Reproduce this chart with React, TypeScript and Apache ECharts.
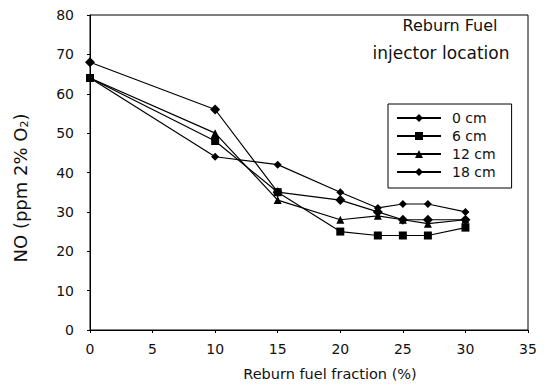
import React, { useEffect, useRef } from "react";
import * as echarts from "echarts";

const fractions = [0, 10, 15, 20, 23, 25, 27, 30];
const cm0 = [68, 56, 35, 33, 30, 28, 28, 28];
const cm6 = [64, 48, 35, 25, 24, 24, 24, 26];
const cm12 = [64, 50, 33, 28, 29, 28, 27, 28];
const cm18 = [64, 44, 42, 35, 31, 32, 32, 30];
const seriesNames = ["0 cm", "6 cm", "12 cm", "18 cm"];
const xTicks = [0, 35, 5];
const yTicks = [0, 80, 10];

const FONT = "DejaVu Sans, Verdana, sans-serif";

export default function App() {
  const ref = useRef<HTMLDivElement>(null);
  useEffect(() => {
    document.body.style.margin = "0";
    if (!ref.current) return;
    const chart = echarts.init(ref.current, undefined, { renderer: "svg" });
    const mk = (name: string, vals: number[], symbol: string, size: number) => ({
      name,
      type: "line",
      data: fractions.map((f, i) => [f, vals[i]]),
      symbol,
      symbolSize: size,
      itemStyle: { color: "#000" },
      lineStyle: { color: "#000", width: 1.2 },
    });
    chart.setOption({
      animation: false,
      backgroundColor: "#fff",
      textStyle: { fontFamily: FONT },
      grid: {
        left: 90,
        right: 18,
        top: 15,
        bottom: 58,
        show: true,
        borderColor: "#000",
        borderWidth: 1,
      },
      xAxis: {
        type: "value",
        min: xTicks[0],
        max: xTicks[1],
        interval: xTicks[2],
        axisLine: { show: true, lineStyle: { color: "#000", width: 1 } },
        axisTick: { show: true, length: 3, lineStyle: { color: "#000" } },
        splitLine: { show: false },
        axisLabel: { color: "#111", fontSize: 14, margin: 12, fontFamily: FONT },
      },
      yAxis: {
        type: "value",
        min: yTicks[0],
        max: yTicks[1],
        interval: yTicks[2],
        axisLine: { show: true, lineStyle: { color: "#000", width: 1 } },
        axisTick: { show: true, length: 3, lineStyle: { color: "#000" } },
        splitLine: { show: false },
        axisLabel: { color: "#111", fontSize: 14, margin: 16, fontFamily: FONT },
      },
      legend: {
        data: seriesNames,
        orient: "vertical",
        left: 388,
        top: 104,
        padding: [7, 16, 9, 8],
        borderColor: "#000",
        borderWidth: 1,
        itemWidth: 44,
        itemHeight: 10,
        itemGap: 4,
        textStyle: { fontSize: 14, color: "#111", fontFamily: FONT, padding: [0, 0, 0, 6] },
      },
      graphic: [
        {
          type: "text",
          x: 450,
          y: 25,
          style: {
            text: "Reburn Fuel",
            fontSize: 16,
            fill: "#111",
            fontFamily: FONT,
            textAlign: "center",
            textVerticalAlign: "middle",
          },
        },
        {
          type: "text",
          x: 441,
          y: 53,
          style: {
            text: "injector location",
            fontSize: 17,
            fill: "#111",
            fontFamily: FONT,
            textAlign: "center",
            textVerticalAlign: "middle",
          },
        },
        {
          type: "text",
          x: 330,
          y: 374,
          style: {
            text: "Reburn fuel fraction (%)",
            fontSize: 14.5,
            fill: "#111",
            fontFamily: FONT,
            textAlign: "center",
            textVerticalAlign: "middle",
          },
        },
        {
          type: "text",
          x: 20,
          y: 188,
          rotation: Math.PI / 2,
          style: {
            text: "{n|NO (ppm 2% O}{s|2}{n|)}",
            fill: "#111",
            fontFamily: FONT,
            textAlign: "center",
            textVerticalAlign: "middle",
            rich: {
              n: { fontSize: 18, fill: "#111", fontFamily: FONT },
              s: { fontSize: 11, fill: "#111", fontFamily: FONT, padding: [9, 0, 0, 0] },
            },
          },
        },
      ],
      series: [
        mk(seriesNames[0], cm0, "diamond", 10),
        mk(seriesNames[1], cm6, "rect", 8),
        mk(seriesNames[2], cm12, "triangle", 8),
        mk(seriesNames[3], cm18, "diamond", 8),
      ],
    });
    return () => chart.dispose();
  }, []);
  return <div ref={ref} style={{ width: 546, height: 388 }} />;
}
